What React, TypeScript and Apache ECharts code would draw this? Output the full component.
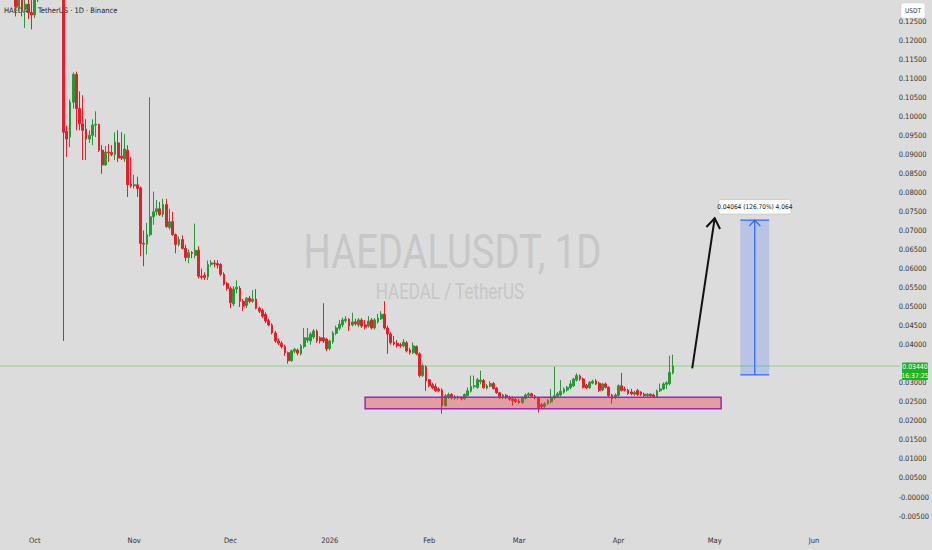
import React, { useEffect, useRef } from 'react';
import * as echarts from 'echarts';

// ---------- categories (daily, from 2025-09-21) ----------
const START_UTC = Date.UTC(2025, 8, 21);
const DAY_COUNT = 278;
const CATEGORIES: string[] = Array.from({ length: DAY_COUNT }, (_, k) =>
  new Date(START_UTC + k * 86400000).toISOString().slice(0, 10)
);
const MONTH_NAMES = ['Jan', 'Feb', 'Mar', 'Apr', 'May', 'Jun', 'Jul', 'Aug', 'Sep', 'Oct', 'Nov', 'Dec'];

// ---------- candle values ----------
const OPEN = [
  0.1420, 0.1385, 0.1400, 0.1360, 0.1330, 0.1288, 0.1312, 0.1282, 0.1294, 0.1272,
  0.1266, 0.1305, 0.1345, 0.1380, 0.1420, 0.1395, 0.1430, 0.1410, 0.1440, 0.1400,
  0.0960, 0.0945, 0.1037, 0.1110, 0.1020, 0.0980, 0.0966, 0.0940, 0.0950, 0.0977,
  0.0979, 0.0911, 0.0872, 0.0906, 0.0905, 0.0900, 0.0930, 0.0895, 0.0888, 0.0911,
  0.0822, 0.0817, 0.0820, 0.0812, 0.0666, 0.0664, 0.0689, 0.0736, 0.0749, 0.0757,
  0.0742, 0.0768, 0.0708, 0.0723, 0.0689, 0.0663, 0.0676, 0.0653, 0.0629, 0.0642,
  0.0635, 0.0648, 0.0580, 0.0582, 0.0578, 0.0611, 0.0614, 0.0613, 0.0611, 0.0585,
  0.0561, 0.0548, 0.0507, 0.0546, 0.0548, 0.0514, 0.0503, 0.0522, 0.0514, 0.0520,
  0.0496, 0.0490, 0.0480, 0.0464, 0.0452, 0.0431, 0.0410, 0.0404, 0.0395, 0.0379,
  0.0358, 0.0383, 0.0386, 0.0376, 0.0395, 0.0412, 0.0410, 0.0420, 0.0436, 0.0418,
  0.0418, 0.0415, 0.0390, 0.0408, 0.0430, 0.0443, 0.0452, 0.0463, 0.0467, 0.0452,
  0.0460, 0.0452, 0.0465, 0.0452, 0.0449, 0.0465, 0.0444, 0.0460, 0.0468, 0.0480,
  0.0444, 0.0428, 0.0407, 0.0404, 0.0400, 0.0397, 0.0405, 0.0386, 0.0379, 0.0395,
  0.0376, 0.0319, 0.0342, 0.0308, 0.0295, 0.0290, 0.0284, 0.0281, 0.0240, 0.0263,
  0.0269, 0.0259, 0.0262, 0.0262, 0.0258, 0.0266, 0.0278, 0.0290, 0.0288, 0.0303,
  0.0306, 0.0286, 0.0291, 0.0298, 0.0286, 0.0274, 0.0261, 0.0267, 0.0262, 0.0258,
  0.0256, 0.0252, 0.0248, 0.0259, 0.0267, 0.0271, 0.0265, 0.0261, 0.0242, 0.0238,
  0.0245, 0.0250, 0.0260, 0.0265, 0.0268, 0.0275, 0.0281, 0.0287, 0.0292, 0.0307,
  0.0318, 0.0310, 0.0293, 0.0287, 0.0299, 0.0305, 0.0299, 0.0281, 0.0297, 0.0288,
  0.0268, 0.0261, 0.0267, 0.0292, 0.0284, 0.0281, 0.0276, 0.0270, 0.0280, 0.0276,
  0.0270, 0.0266, 0.0270, 0.0268, 0.0264, 0.0279, 0.0284, 0.0296, 0.0298, 0.0326,
];
const CLOSE = [
  0.1385, 0.1400, 0.1360, 0.1330, 0.1288, 0.1312, 0.1282, 0.1294, 0.1272, 0.1266,
  0.1305, 0.1345, 0.1380, 0.1420, 0.1395, 0.1430, 0.1410, 0.1440, 0.1400, 0.0958,
  0.0940, 0.1037, 0.1110, 0.1020, 0.0980, 0.0963, 0.0940, 0.0950, 0.0977, 0.0979,
  0.0911, 0.0872, 0.0906, 0.0905, 0.0900, 0.0932, 0.0890, 0.0890, 0.0914, 0.0820,
  0.0817, 0.0820, 0.0810, 0.0666, 0.0664, 0.0689, 0.0736, 0.0749, 0.0757, 0.0742,
  0.0768, 0.0710, 0.0723, 0.0689, 0.0663, 0.0676, 0.0653, 0.0629, 0.0642, 0.0640,
  0.0648, 0.0580, 0.0577, 0.0577, 0.0611, 0.0615, 0.0612, 0.0609, 0.0585, 0.0559,
  0.0548, 0.0510, 0.0546, 0.0551, 0.0514, 0.0501, 0.0522, 0.0514, 0.0520, 0.0496,
  0.0488, 0.0475, 0.0462, 0.0452, 0.0431, 0.0410, 0.0404, 0.0395, 0.0379, 0.0358,
  0.0384, 0.0388, 0.0378, 0.0397, 0.0418, 0.0418, 0.0428, 0.0436, 0.0410, 0.0410,
  0.0410, 0.0389, 0.0410, 0.0431, 0.0444, 0.0454, 0.0465, 0.0467, 0.0449, 0.0460,
  0.0455, 0.0465, 0.0449, 0.0446, 0.0462, 0.0444, 0.0465, 0.0470, 0.0480, 0.0444,
  0.0428, 0.0405, 0.0402, 0.0397, 0.0397, 0.0407, 0.0384, 0.0379, 0.0397, 0.0376,
  0.0319, 0.0345, 0.0305, 0.0292, 0.0287, 0.0279, 0.0279, 0.0240, 0.0266, 0.0269,
  0.0260, 0.0264, 0.0261, 0.0258, 0.0269, 0.0279, 0.0290, 0.0292, 0.0308, 0.0307,
  0.0287, 0.0292, 0.0298, 0.0285, 0.0274, 0.0261, 0.0268, 0.0261, 0.0257, 0.0253,
  0.0251, 0.0248, 0.0260, 0.0268, 0.0271, 0.0265, 0.0261, 0.0235, 0.0238, 0.0245,
  0.0253, 0.0261, 0.0266, 0.0271, 0.0278, 0.0284, 0.0288, 0.0297, 0.0310, 0.0319,
  0.0310, 0.0288, 0.0287, 0.0301, 0.0304, 0.0297, 0.0280, 0.0297, 0.0288, 0.0266,
  0.0258, 0.0268, 0.0292, 0.0280, 0.0281, 0.0272, 0.0271, 0.0275, 0.0269, 0.0269,
  0.0266, 0.0270, 0.0266, 0.0264, 0.0279, 0.0284, 0.0297, 0.0300, 0.0327, 0.0344,
];
const LOW = [
  0.1360, 0.1350, 0.1330, 0.1305, 0.1262, 0.1275, 0.1262, 0.1232, 0.1255, 0.1228,
  0.1258, 0.1300, 0.1330, 0.1365, 0.1370, 0.1380, 0.1385, 0.1395, 0.1375, 0.0410,
  0.0893, 0.0919, 0.1020, 0.0963, 0.0963, 0.0885, 0.0885, 0.0930, 0.0924, 0.0945,
  0.0906, 0.0849, 0.0870, 0.0880, 0.0895, 0.0885, 0.0880, 0.0885, 0.0880, 0.0788,
  0.0812, 0.0810, 0.0788, 0.0632, 0.0606, 0.0637, 0.0684, 0.0715, 0.0740, 0.0738,
  0.0735, 0.0707, 0.0702, 0.0686, 0.0640, 0.0658, 0.0650, 0.0619, 0.0614, 0.0627,
  0.0627, 0.0574, 0.0571, 0.0570, 0.0570, 0.0605, 0.0603, 0.0600, 0.0580, 0.0555,
  0.0542, 0.0496, 0.0501, 0.0535, 0.0499, 0.0488, 0.0496, 0.0509, 0.0510, 0.0493,
  0.0483, 0.0470, 0.0457, 0.0448, 0.0427, 0.0405, 0.0399, 0.0390, 0.0371, 0.0350,
  0.0355, 0.0378, 0.0372, 0.0372, 0.0390, 0.0405, 0.0400, 0.0415, 0.0405, 0.0403,
  0.0405, 0.0383, 0.0385, 0.0402, 0.0425, 0.0438, 0.0446, 0.0458, 0.0436, 0.0448,
  0.0450, 0.0446, 0.0444, 0.0440, 0.0445, 0.0440, 0.0440, 0.0455, 0.0465, 0.0440,
  0.0376, 0.0400, 0.0398, 0.0392, 0.0392, 0.0393, 0.0380, 0.0374, 0.0375, 0.0372,
  0.0314, 0.0315, 0.0279, 0.0288, 0.0283, 0.0276, 0.0275, 0.0219, 0.0237, 0.0258,
  0.0256, 0.0255, 0.0256, 0.0254, 0.0255, 0.0263, 0.0274, 0.0285, 0.0284, 0.0296,
  0.0284, 0.0282, 0.0288, 0.0282, 0.0271, 0.0258, 0.0257, 0.0257, 0.0253, 0.0240,
  0.0247, 0.0244, 0.0245, 0.0256, 0.0263, 0.0261, 0.0257, 0.0222, 0.0233, 0.0234,
  0.0242, 0.0246, 0.0256, 0.0261, 0.0264, 0.0271, 0.0277, 0.0283, 0.0289, 0.0303,
  0.0305, 0.0285, 0.0283, 0.0284, 0.0296, 0.0294, 0.0276, 0.0278, 0.0285, 0.0263,
  0.0245, 0.0257, 0.0263, 0.0277, 0.0277, 0.0268, 0.0267, 0.0266, 0.0266, 0.0265,
  0.0263, 0.0263, 0.0263, 0.0261, 0.0261, 0.0276, 0.0281, 0.0284, 0.0293, 0.0322,
];
const HIGH = [
  0.1450, 0.1430, 0.1415, 0.1380, 0.1345, 0.1335, 0.1325, 0.1320, 0.1318, 0.1305,
  0.1335, 0.1370, 0.1410, 0.1450, 0.1440, 0.1470, 0.1455, 0.1480, 0.1460, 0.1425,
  0.0975, 0.1044, 0.1115, 0.1117, 0.1065, 0.1055, 0.0992, 0.0963, 0.0992, 0.1013,
  0.0980, 0.0924, 0.0922, 0.0927, 0.0924, 0.0958, 0.0963, 0.0958, 0.0953, 0.0924,
  0.0893, 0.0846, 0.0841, 0.0815, 0.0700, 0.0720, 0.1050, 0.0802, 0.0780, 0.0775,
  0.0783, 0.0783, 0.0757, 0.0749, 0.0692, 0.0684, 0.0687, 0.0662, 0.0650, 0.0646,
  0.0718, 0.0658, 0.0600, 0.0590, 0.0621, 0.0622, 0.0622, 0.0622, 0.0614, 0.0590,
  0.0565, 0.0553, 0.0554, 0.0569, 0.0554, 0.0520, 0.0525, 0.0528, 0.0543, 0.0546,
  0.0500, 0.0495, 0.0485, 0.0468, 0.0456, 0.0436, 0.0416, 0.0409, 0.0400, 0.0382,
  0.0387, 0.0392, 0.0390, 0.0402, 0.0444, 0.0444, 0.0433, 0.0441, 0.0440, 0.0422,
  0.0509, 0.0418, 0.0413, 0.0436, 0.0450, 0.0465, 0.0471, 0.0475, 0.0470, 0.0484,
  0.0468, 0.0470, 0.0470, 0.0465, 0.0475, 0.0470, 0.0470, 0.0481, 0.0488, 0.0514,
  0.0450, 0.0433, 0.0423, 0.0412, 0.0405, 0.0415, 0.0410, 0.0392, 0.0406, 0.0398,
  0.0380, 0.0350, 0.0346, 0.0310, 0.0300, 0.0298, 0.0288, 0.0286, 0.0271, 0.0274,
  0.0273, 0.0268, 0.0266, 0.0265, 0.0272, 0.0288, 0.0319, 0.0319, 0.0313, 0.0332,
  0.0310, 0.0296, 0.0304, 0.0302, 0.0289, 0.0276, 0.0271, 0.0270, 0.0266, 0.0264,
  0.0261, 0.0258, 0.0264, 0.0272, 0.0275, 0.0274, 0.0268, 0.0263, 0.0247, 0.0249,
  0.0257, 0.0284, 0.0342, 0.0276, 0.0307, 0.0288, 0.0292, 0.0307, 0.0313, 0.0325,
  0.0322, 0.0314, 0.0297, 0.0305, 0.0308, 0.0310, 0.0303, 0.0300, 0.0301, 0.0291,
  0.0271, 0.0272, 0.0296, 0.0326, 0.0290, 0.0284, 0.0284, 0.0279, 0.0284, 0.0278,
  0.0274, 0.0273, 0.0272, 0.0272, 0.0282, 0.0298, 0.0301, 0.0304, 0.0371, 0.0374,
];

// ---------- annotations ----------
const LAST_PRICE = 0.0344;
const LAST_PRICE_TEXT = '0.03440';
const COUNTDOWN_TEXT = '16:37:25';
const ZONE = { from: '2026-01-12', to: '2026-05-03', top: 0.0262, bottom: 0.0232 };
const MEASURE = { from: '2026-05-09', to: '2026-05-18', base: 0.03208, top: 0.07272, label: '0.04064 (126.70%) 4,064' };
const ARROW = { from: '2026-04-24', fromPrice: 0.0338, to: '2026-05-01', toPrice: 0.0732 };
const TITLE = 'HAEDALUSDT, 1D';
const SUBTITLE = 'HAEDAL / TetherUS';
const LEGEND = 'HAEDAL / TetherUS · 1D · Binance';
const CURRENCY = 'USDT';

const BG = '#dcdcdc';
const UP = '#249a33';
const DOWN = '#e61e2a';
const FONT = "'Liberation Sans Narrow', 'DejaVu Sans Condensed', Roboto, sans-serif";

const CANDLES = OPEN.map((o, i) => [o, CLOSE[i], LOW[i], HIGH[i]]);

function yLabel(v: number): string {
  if (v < -0.0075 || v > 0.1275) return '';
  if (Math.abs(v - LAST_PRICE) < 0.0022) return '';
  if (Math.abs(v) < 1e-9) return '-0.00000';
  return v.toFixed(5);
}

function xLabel(v: string): string {
  const m = Number(v.slice(5, 7)) - 1;
  return m === 0 ? v.slice(0, 4) : MONTH_NAMES[m];
}

export default function App() {
  const ref = useRef<HTMLDivElement>(null);

  useEffect(() => {
    if (!ref.current) return;
    const chart = echarts.init(ref.current, null, { renderer: 'svg' });
    chart.setOption({
      animation: false,
      backgroundColor: BG,
      grid: { left: 1.1, right: 34.3, top: 2, bottom: 14.9, containLabel: false },
      xAxis: {
        type: 'category',
        data: CATEGORIES,
        boundaryGap: true,
        offset: -7,
        axisLine: { show: false },
        axisTick: { show: false },
        splitLine: { show: false },
        axisLabel: {
          interval: (_i: number, v: string) => v.endsWith('-01'),
          formatter: xLabel,
          color: '#333',
          fontSize: 7.5,
          margin: 8,
          fontFamily: FONT,
        },
      },
      yAxis: {
        type: 'value',
        position: 'right',
        min: -0.01,
        max: 0.13,
        interval: 0.005,
        axisLine: { show: false },
        axisTick: { show: false },
        splitLine: { show: false },
        axisLabel: { margin: 6, fontSize: 7.5, color: '#333', formatter: yLabel, fontFamily: FONT },
      },
      series: [
        {
          type: 'candlestick',
          data: CANDLES,
          barWidth: 2.3,
          itemStyle: { color: UP, color0: DOWN, borderColor: UP, borderColor0: DOWN, borderWidth: 1 },
        },
      ],
    });

    const p = (d: string, v: number) =>
      chart.convertToPixel({ xAxisIndex: 0, yAxisIndex: 0 }, [d, v]) as number[];

    const [zx1, zy1] = p(ZONE.from, ZONE.top);
    const [zx2, zy2] = p(ZONE.to, ZONE.bottom);
    const [mx1, my1] = p(MEASURE.from, MEASURE.top);
    const [mx2, my2] = p(MEASURE.to, MEASURE.base);
    const mcx = (mx1 + mx2) / 2;
    const [ax1, ay1] = p(ARROW.from, ARROW.fromPrice);
    const [ax2, ay2] = p(ARROW.to, ARROW.toPrice);
    const len = Math.hypot(ax2 - ax1, ay2 - ay1);
    const bx = (ax1 - ax2) / len;
    const by = (ay1 - ay2) / len;
    const rot = (a: number) => [
      ax2 + 12 * (bx * Math.cos(a) - by * Math.sin(a)),
      ay2 + 12 * (bx * Math.sin(a) + by * Math.cos(a)),
    ];
    const ang = (35 * Math.PI) / 180;
    const [, ly] = p(CATEGORIES[0], LAST_PRICE);

    const graphic: any[] = [
      {
        type: 'text', x: 452.5, y: 251, scaleX: 0.78, z: 0, silent: true,
        style: { text: TITLE, font: '49px Roboto', fill: '#c7c7c7', align: 'center', verticalAlign: 'middle' },
      },
      {
        type: 'text', x: 450, y: 291.5, scaleX: 0.755, z: 0, silent: true,
        style: { text: SUBTITLE, font: '22.5px Roboto', fill: '#c7c7c7', align: 'center', verticalAlign: 'middle' },
      },
      {
        type: 'text', x: 4, y: 10, z: 0, silent: true,
        style: { text: LEGEND, font: `7.5px ${FONT}`, fill: '#222', align: 'left', verticalAlign: 'middle' },
      },
      {
        type: 'line', z: 1, silent: true,
        shape: { x1: 0, y1: ly, x2: 900, y2: ly },
        style: { stroke: '#8fd48f', lineWidth: 1 },
      },
      {
        type: 'rect', z: 100, silent: true,
        shape: { x: zx1, y: zy1, width: zx2 - zx1, height: zy2 - zy1 },
        style: { fill: 'rgba(242,54,69,0.38)', stroke: '#9c27b0', lineWidth: 1.5 },
      },
      {
        type: 'rect', z: 100, silent: true,
        shape: { x: mx1, y: my1, width: mx2 - mx1, height: my2 - my1 },
        style: { fill: 'rgba(41,98,255,0.2)' },
      },
      { type: 'line', z: 101, silent: true, shape: { x1: mcx, y1: my1, x2: mcx, y2: my2 }, style: { stroke: '#2962ff', lineWidth: 1.2 } },
      { type: 'line', z: 101, silent: true, shape: { x1: mx1, y1: my1, x2: mx2, y2: my1 }, style: { stroke: '#2962ff', lineWidth: 1.2 } },
      { type: 'line', z: 101, silent: true, shape: { x1: mx1, y1: my2, x2: mx2, y2: my2 }, style: { stroke: '#2962ff', lineWidth: 1.2 } },
      {
        type: 'polyline', z: 101, silent: true,
        shape: { points: [[mcx - 5.5, my1 + 6], [mcx, my1], [mcx + 5.5, my1 + 6]] },
        style: { stroke: '#2962ff', lineWidth: 1.2, fill: null },
      },
      {
        type: 'rect', z: 102, silent: true,
        shape: { x: mcx - 35.5, y: my1 - 20, width: 71, height: 13.5, r: 2 },
        style: { fill: '#ffffff', shadowBlur: 2, shadowColor: 'rgba(0,0,0,0.15)' },
      },
      {
        type: 'text', z: 103, silent: true,
        style: { text: MEASURE.label, x: mcx, y: my1 - 13.2, font: `6.5px ${FONT}`, fill: '#131722', align: 'center', verticalAlign: 'middle' },
      },
      { type: 'line', z: 101, silent: true, shape: { x1: ax1, y1: ay1, x2: ax2, y2: ay2 }, style: { stroke: '#111', lineWidth: 2 } },
      {
        type: 'polyline', z: 101, silent: true,
        shape: { points: [rot(ang), [ax2, ay2], rot(-ang)] },
        style: { stroke: '#111', lineWidth: 2, fill: null },
      },
      {
        type: 'rect', z: 102, silent: true,
        shape: { x: 902, y: ly - 3.5, width: 26, height: 17.5, r: 1 },
        style: { fill: '#1fb31f' },
      },
      {
        type: 'text', z: 103, silent: true,
        style: { text: LAST_PRICE_TEXT, x: 915, y: ly + 1, font: `6.8px ${FONT}`, fill: '#ffffff', align: 'center', verticalAlign: 'middle' },
      },
      {
        type: 'text', z: 103, silent: true,
        style: { text: COUNTDOWN_TEXT, x: 915, y: ly + 9.6, font: `6.8px ${FONT}`, fill: '#ffffff', align: 'center', verticalAlign: 'middle' },
      },
      {
        type: 'rect', z: 102, silent: true,
        shape: { x: 901, y: 3, width: 24, height: 15, r: 2 },
        style: { fill: '#ffffff', stroke: '#c8c8c8', lineWidth: 0.5 },
      },
      {
        type: 'text', z: 103, silent: true,
        style: { text: CURRENCY, x: 913, y: 10.5, font: `6.5px ${FONT}`, fill: '#333', align: 'center', verticalAlign: 'middle' },
      },
    ];
    chart.setOption({ graphic });

    return () => chart.dispose();
  }, []);

  return <div ref={ref} style={{ position: 'absolute', left: 0, top: 0, width: 932, height: 550 }} />;
}
